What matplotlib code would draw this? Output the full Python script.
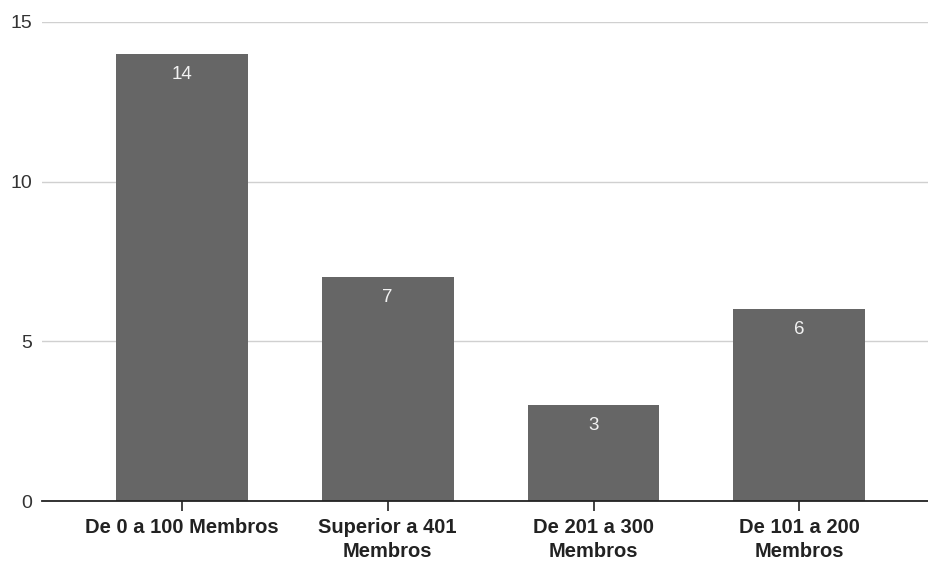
import matplotlib
matplotlib.use("Agg")
import matplotlib.pyplot as plt

categories = ["De 0 a 100 Membros", "Superior a 401\nMembros", "De 201 a 300\nMembros", "De 101 a 200\nMembros"]
values = [14, 7, 3, 6]
yticks = [0, 5, 10, 15]

plt.rcParams['font.family'] = ['Liberation Sans', 'DejaVu Sans']

fig = plt.figure(figsize=(9.29, 5.62), dpi=100)
ax = fig.add_axes([42/929, 61/562, 1 - 42/929, 479/562])

x = list(range(len(categories)))
bars = ax.bar(x, values, width=0.64, color="#666666", zorder=3)

for xi, v in zip(x, values):
    ax.annotate(str(v), (xi, v), xytext=(0, -14.5), textcoords="offset points",
                ha="center", va="center", color="#f2f2f2", fontsize=13.5, zorder=4)

ax.set_xlim(-0.68, 3.63)
ax.set_ylim(0, 15)
ax.set_yticks(yticks)
ax.set_yticklabels([str(t) for t in yticks], fontsize=14, color="#333333")
ax.set_xticks(x)
ax.set_xticklabels(categories, fontsize=14.5, fontweight="bold", color="#222222",
                   linespacing=1.3)

ax.grid(axis="y", color="#d0d0d0", linewidth=1, zorder=0)
ax.grid(axis="x", visible=False)
for s in ["top", "right", "left"]:
    ax.spines[s].set_visible(False)
ax.spines["bottom"].set_color("#222222")
ax.spines["bottom"].set_linewidth(1.3)
ax.spines["bottom"].set_zorder(5)

ax.tick_params(axis="y", length=0, pad=7)
ax.tick_params(axis="x", direction="inout", length=15, width=1.2, color="#222222", pad=5)

fig.savefig("out.png", dpi=100)
